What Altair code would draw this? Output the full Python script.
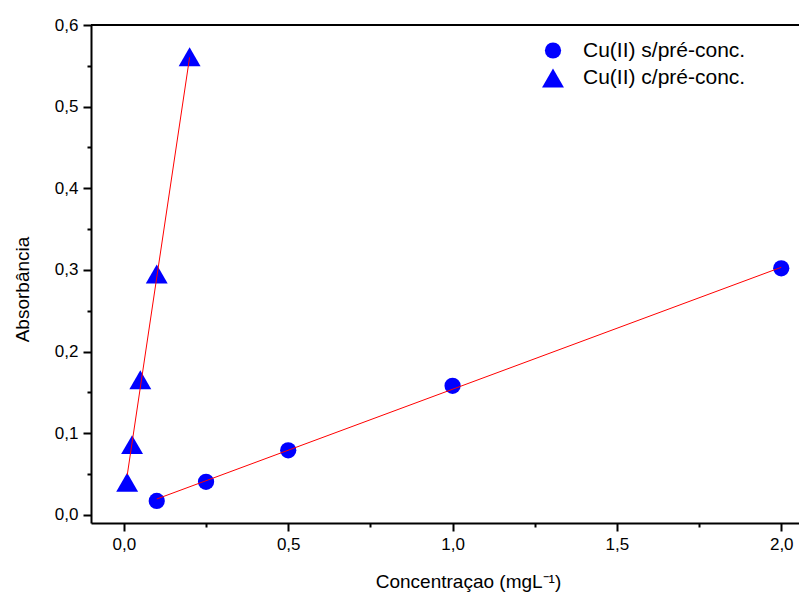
import altair as alt
import pandas as pd

s_label = "Cu(II) s/pré-conc."
c_label = "Cu(II) c/pré-conc."

# measured points
s_x = [0.1, 0.25, 0.5, 1.0, 2.0]
s_y = [0.017, 0.0405, 0.079, 0.158, 0.302]
c_x = [0.01, 0.025, 0.05, 0.1, 0.2]
c_y = [0.040, 0.086, 0.1655, 0.295, 0.561]

# linear fit lines (end points)
fit_s_x = [0.1, 2.0]
fit_s_y = [0.0194, 0.3032]
fit_c_x = [0.0103, 0.2]
fit_c_y = [0.0488, 0.5604]

x_ticks = [0.0, 0.25, 0.5, 0.75, 1.0, 1.25, 1.5, 1.75, 2.0]
y_ticks = [0.0, 0.05, 0.1, 0.15, 0.2, 0.25, 0.3, 0.35, 0.4, 0.45, 0.5, 0.55, 0.6]

pts = pd.DataFrame({
    "x": s_x + c_x,
    "y": s_y + c_y,
    "serie": [s_label] * len(s_x) + [c_label] * len(c_x),
})
fits = pd.DataFrame({
    "x": fit_s_x + fit_c_x,
    "y": fit_s_y + fit_c_y,
    "serie": [s_label] * len(fit_s_x) + [c_label] * len(fit_c_x),
})

FONT = "Liberation Sans"
W, H = 708, 498

x_major = "datum.value % 0.5 === 0"
y_major = "abs(datum.value*10 - round(datum.value*10)) < 0.001"

x_axis = alt.Axis(
    values=x_ticks,
    labelExpr=f"{x_major} ? replace(format(datum.value, '.1f'), '.', ',') : ''",
    tickSize={"condition": {"test": x_major, "value": 8}, "value": 4},
    title="Concentraçao (mgL⁻¹)",
    titleX=377, titleY=64, titleBaseline="alphabetic", titleAlign="center",
    grid=False, labelOverlap=False, labelBound=False, labelFlush=False,
)
y_axis = alt.Axis(
    values=y_ticks,
    labelExpr=f"{y_major} ? replace(format(datum.value, '.1f'), '.', ',') : ''",
    tickSize={"condition": {"test": y_major, "value": 8}, "value": 4},
    title="Absorbância",
    titleAngle=-90, titleX=-63, titleY=264, titleBaseline="alphabetic", titleAlign="center",
    grid=False, labelOverlap=False, labelBound=False, labelFlush=False,
)

xs = alt.Scale(domain=[-0.1, 2.054], nice=False, zero=False)
ys = alt.Scale(domain=[-0.01, 0.6], nice=False, zero=False)

leg = dict(title=None, orient="none", legendX=450, legendY=15,
           labelFontSize=21, labelFont=FONT, labelColor="#000000",
           symbolFillColor="#0000ff", symbolStrokeColor="#0000ff",
           labelOffset=18, rowPadding=3, labelLimit=400)

points = alt.Chart(pts).mark_point(filled=True, color="#0000ff", opacity=1).encode(
    x=alt.X("x:Q", scale=xs, axis=x_axis),
    y=alt.Y("y:Q", scale=ys, axis=y_axis),
    shape=alt.Shape("serie:N", scale=alt.Scale(domain=[s_label, c_label], range=["circle", "triangle-up"]),
                    legend=alt.Legend(**leg)),
    size=alt.Size("serie:N", scale=alt.Scale(domain=[s_label, c_label], range=[263, 480]),
                  legend=alt.Legend(**leg)),
)

lines = alt.Chart(fits).mark_line(color="#ff0000", strokeWidth=1).encode(
    x=alt.X("x:Q", scale=xs),
    y=alt.Y("y:Q", scale=ys),
    detail="serie:N",
)

top_border = alt.Chart(pts).mark_rule(color="#000000", strokeWidth=2).encode(
    x=alt.value(0), x2=alt.value(W), y=alt.value(0)
)

chart = alt.layer(points, lines, top_border).properties(
    width=W, height=H,
    autosize=alt.AutoSizeParams(type="none"),
    padding={"left": 91, "top": 25, "right": 0, "bottom": 72},
).configure_view(strokeOpacity=0).configure_axis(
    domainColor="#000000", domainWidth=2, tickColor="#000000", tickWidth=2,
    labelFont=FONT, labelFontSize=17, labelColor="#000000", labelPadding=5,
    titleFont=FONT, titleFontSize=19, titleColor="#000000", titleFontWeight="normal",
)

chart.save("out.html", embed_options={"renderer": "svg", "actions": False})
